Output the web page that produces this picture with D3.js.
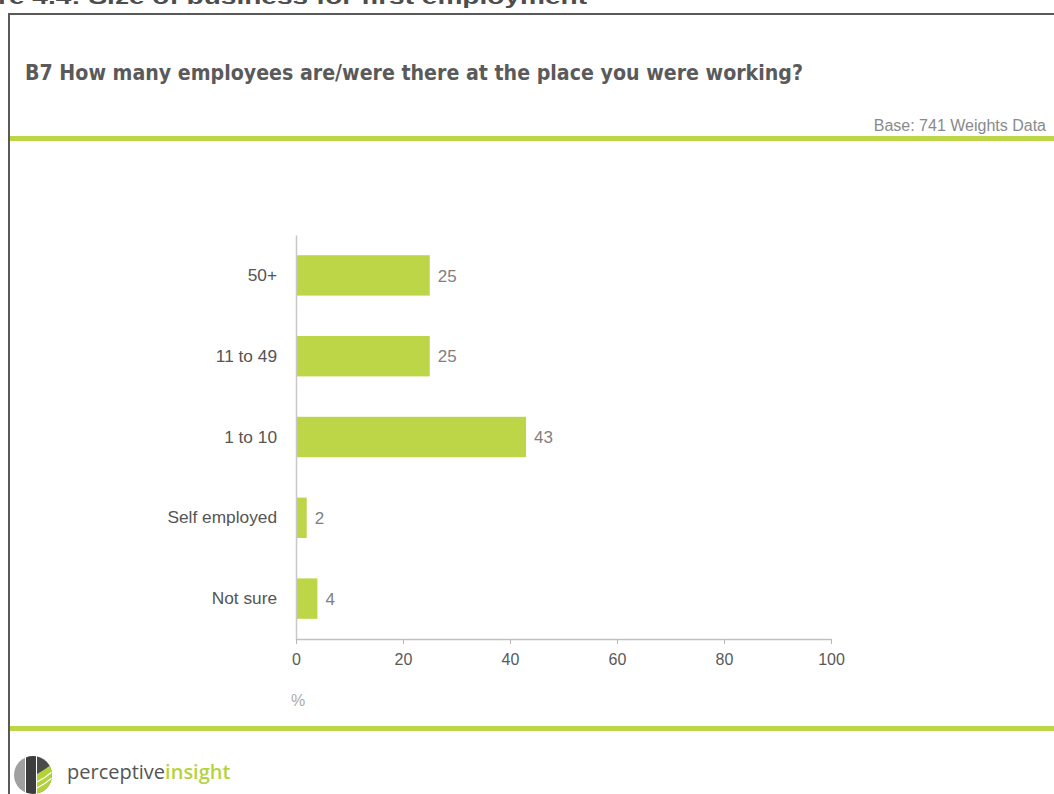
<!DOCTYPE html>
<html>
<head>
<meta charset="utf-8">
<script src="https://cdn.jsdelivr.net/npm/d3@7"></script>
<style>
  html, body { margin: 0; padding: 0; background: #fff; overflow: hidden; }
  svg { display: block; }
</style>
</head>
<body>
<svg id="chart" width="1054" height="794"></svg>
<script>
// Survey results: size of business for first employment (%)
const categories = ["50+", "11 to 49", "1 to 10", "Self employed", "Not sure"];
const values = [25, 25, 43, 2, 4];
const xTicks = [0, 20, 40, 60, 80, 100];

const figureTitle = "re 4.4: Size of business for first employment";
const question = "B7 How many employees are/were there at the place you were working?";
const baseNote = "Base: 741 Weights Data";
const axisUnit = "%";

const green = "#bdd647";
const font = "Arial, 'Liberation Sans', sans-serif";
const svg = d3.select("#chart");

// Figure caption, running off the top of the page
svg.append("text")
  .attr("x", -2).attr("y", 4)
  .attr("font-family", font)
  .attr("font-weight", "bold").attr("font-size", 21)
  .attr("fill", "#4d4d4d")
  .attr("textLength", 589).attr("lengthAdjust", "spacingAndGlyphs")
  .text(figureTitle);

// Panel frame
svg.append("rect")
  .attr("x", 9).attr("y", 14).attr("width", 1100).attr("height", 900)
  .attr("fill", "none").attr("stroke", "#595959").attr("stroke-width", 2);

// Question heading
svg.append("text")
  .attr("x", 25).attr("y", 80)
  .attr("font-family", "'DejaVu Sans', Verdana, sans-serif")
  .attr("font-weight", "bold").attr("font-size", 22)
  .attr("fill", "#5a5a5a")
  .attr("textLength", 778).attr("lengthAdjust", "spacingAndGlyphs")
  .text(question);

svg.append("text")
  .attr("x", 1046).attr("y", 131)
  .attr("text-anchor", "end")
  .attr("font-family", font)
  .attr("font-size", 16).attr("fill", "#8a8a8a")
  .text(baseNote);

// Green rules above and below the plot
svg.append("rect").attr("x", 10).attr("y", 136).attr("width", 1044).attr("height", 5).attr("fill", green);
svg.append("rect").attr("x", 10).attr("y", 726).attr("width", 1044).attr("height", 5).attr("fill", green);

// Plot area
const x = d3.scaleLinear().domain([0, 100]).range([296, 831]);
const y = d3.scaleBand().domain(categories).range([235, 639]).paddingInner(0.5).paddingOuter(0.25);

// Bars
svg.append("g").selectAll("rect")
  .data(categories)
  .join("rect")
  .attr("x", x(0))
  .attr("y", d => y(d))
  .attr("width", (d, i) => x(values[i]) - x(0))
  .attr("height", y.bandwidth())
  .attr("fill", green);

// Value labels
svg.append("g").selectAll("text")
  .data(categories)
  .join("text")
  .attr("x", (d, i) => x(values[i]) + 8)
  .attr("y", d => y(d) + y.bandwidth() / 2)
  .attr("dy", "0.36em")
  .attr("font-family", font).attr("font-size", 17)
  .attr("fill", "#7f7f7f")
  .text((d, i) => values[i]);

// Category axis
const yAxis = svg.append("g")
  .attr("transform", `translate(${x(0)},0)`)
  .call(d3.axisLeft(y).tickSize(0).tickPadding(19));
yAxis.select(".domain").attr("stroke", "#c8c8c8").attr("stroke-width", 1.5);
yAxis.selectAll("text").attr("font-family", font).attr("font-size", 17.3).attr("fill", "#555");

// Value axis
const xAxis = svg.append("g")
  .attr("transform", `translate(0,639)`)
  .call(d3.axisBottom(x).tickValues(xTicks).tickSize(5).tickSizeOuter(0).tickPadding(10));
xAxis.select(".domain").attr("stroke", "#c0c0c0").attr("stroke-width", 1.5);
xAxis.selectAll(".tick line").attr("stroke", "#b8b8b8");
xAxis.selectAll("text").attr("font-family", font).attr("font-size", 16).attr("fill", "#595959");

svg.append("text")
  .attr("x", x(0) + 2).attr("y", 706)
  .attr("text-anchor", "middle")
  .attr("font-family", font).attr("font-size", 16).attr("fill", "#aaaaaa")
  .text(axisUnit);

// Company logo
const logo = svg.append("g").attr("transform", "translate(33,775)");
logo.append("clipPath").attr("id", "logoClip")
  .append("circle").attr("r", 19);
const lg = logo.append("g").attr("clip-path", "url(#logoClip)");
lg.append("rect").attr("x", -19).attr("y", -19).attr("width", 11).attr("height", 38).attr("fill", "#a0a0a0");
lg.append("rect").attr("x", -7).attr("y", -19).attr("width", 10).attr("height", 38).attr("fill", "#3d3d3d");
lg.append("rect").attr("x", 4).attr("y", -19).attr("width", 15).attr("height", 38).attr("fill", "#4a4a4a");
lg.append("path").attr("d", "M4,19 L4,-1 Q13,-6 19,-11 L19,19 Z").attr("fill", "#b3d23a");
lg.append("path").attr("d", "M4,7 Q12,3 19,-3").attr("stroke", "#fff").attr("stroke-width", 1.2).attr("fill", "none");
lg.append("path").attr("d", "M4,13 Q12,9 19,3").attr("stroke", "#fff").attr("stroke-width", 1.2).attr("fill", "none");

const brand = svg.append("text")
  .attr("x", 67).attr("y", 779)
  .attr("font-family", "'Open Sans', 'DejaVu Sans', sans-serif")
  .attr("font-size", 20);
brand.append("tspan").attr("fill", "#555").text("perceptive");
brand.append("tspan").attr("fill", "#b5d33c").attr("font-weight", 600).text("insight");
</script>
</body>
</html>
